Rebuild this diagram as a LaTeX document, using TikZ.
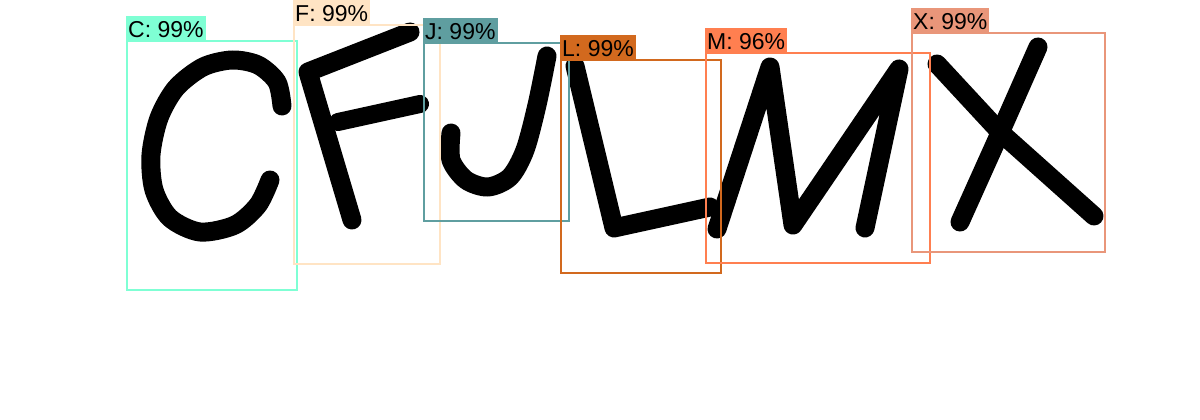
\documentclass[tikz,border=0pt]{standalone}
\usepackage{fontspec}
\setmainfont{Liberation Sans}

\definecolor{boxC}{RGB}{127,255,212}
\definecolor{boxF}{RGB}{255,228,196}
\definecolor{boxJ}{RGB}{95,158,160}
\definecolor{boxL}{RGB}{210,105,30}
\definecolor{boxM}{RGB}{255,127,80}
\definecolor{boxX}{RGB}{233,150,122}

\begin{document}
\begin{tikzpicture}[x=1pt, y=-1pt,
    ink/.style={line width=19pt, line cap=round, line join=round, black},
    detbox/.style={line width=2pt},
    tag/.style={anchor=south west, inner xsep=2pt, inner ysep=0pt,
                text height=22pt, text depth=3pt,
                font=\fontsize{23}{23}\selectfont}]

    % Fix the size of the page
    \useasboundingbox (0,0) rectangle (1200,420);

    % Handwritten letter C
    \draw[ink] plot[smooth] coordinates {(282,106) (277,82) (258,65) (232,60)
        (203,67) (176,88) (159,118) (151,155) (154,190) (170,218) (200,232)
        (235,225) (258,205) (270,180)};

    % Handwritten letter F
    \draw[ink] (410,32) -- (308,72) -- (352,220);
    \draw[ink, line width=18pt] (338,122) -- (420,104);

    % Handwritten letter J
    \draw[ink] plot[smooth] coordinates {(547,56) (537,105) (525,150)
        (510,177) (488,187) (466,180) (451,160) (451,133)};

    % Handwritten letter L
    \draw[ink] (575,66) -- (614,228) -- (710,207);

    % Handwritten letter M
    \draw[ink] (717,229) -- (770,67) -- (793,225) -- (899,69) -- (865,228);

    % Handwritten letter X
    \draw[ink] (937,64) -- (1000,132) -- (1094,216);
    \draw[ink] (1038,47) -- (1000,133) -- (960,222);

    % Corners of the detection boxes
    \coordinate (C1) at (127,41);  \coordinate (C2) at (297,290);
    \coordinate (F1) at (294,25);  \coordinate (F2) at (440,264);
    \coordinate (J1) at (424,43);  \coordinate (J2) at (569,221);
    \coordinate (L1) at (561,60);  \coordinate (L2) at (721,273);
    \coordinate (M1) at (706,53);  \coordinate (M2) at (930,263);
    \coordinate (X1) at (912,33);  \coordinate (X2) at (1105,252);

    % Draw the boxes
    \draw[detbox, boxC] (C1) rectangle (C2);
    \draw[detbox, boxF] (F1) rectangle (F2);
    \draw[detbox, boxJ] (J1) rectangle (J2);
    \draw[detbox, boxL] (L1) rectangle (L2);
    \draw[detbox, boxM] (M1) rectangle (M2);
    \draw[detbox, boxX] (X1) rectangle (X2);

    % Label every box with its class and score
    \node[tag, fill=boxC] (tagC) at ([xshift=-1pt]C1) {C: 99\%};
    \node[tag, fill=boxF] (tagF) at ([xshift=-1pt]F1) {F: 99\%};
    \node[tag, fill=boxJ] (tagJ) at ([xshift=-1pt]J1) {J: 99\%};
    \node[tag, fill=boxL] (tagL) at ([xshift=-1pt]L1) {L: 99\%};
    \node[tag, fill=boxM] (tagM) at ([xshift=-1pt]M1) {M: 96\%};
    \node[tag, fill=boxX] (tagX) at ([xshift=-1pt]X1) {X: 99\%};

\end{tikzpicture}
\end{document}
